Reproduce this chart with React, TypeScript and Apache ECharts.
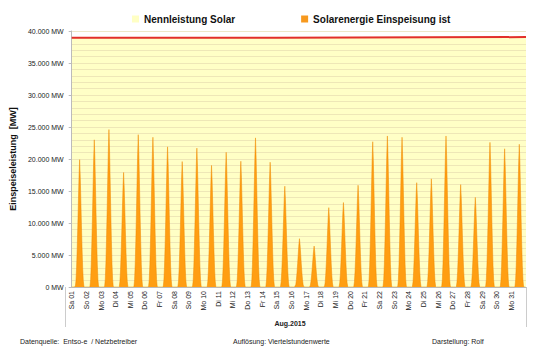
import React, { useEffect, useRef } from "react";
import * as echarts from "echarts";

// Day tick labels (August 2015)
const dayLabels = [
  "Sa 01", "So 02", "Mo 03", "Di 04", "Mi 05", "Do 06", "Fr 07", "Sa 08", "So 09", "Mo 10",
  "Di 11", "Mi 12", "Do 13", "Fr 14", "Sa 15", "So 16", "Mo 17", "Di 18", "Mi 19", "Do 20",
  "Fr 21", "Sa 22", "So 23", "Mo 24", "Di 25", "Mi 26", "Do 27", "Fr 28", "Sa 29", "So 30", "Mo 31",
];

// Daily peak of solar feed-in (MW)
const dailyPeakMW = [
  19900, 23000, 24600, 17900, 23800, 23400, 21900, 19600, 21700, 19000,
  21050, 19650, 23300, 19500, 15750, 7550, 6400, 12400, 13200, 15900,
  22700, 23600, 23400, 16300, 16900, 23600, 16000, 14000, 22600, 21600, 22300,
];

// Intraday shape of a day's feed-in (fraction of peak, hours 0..23)
const intradayProfile = [
  0, 0, 0, 0, 0, 0, 0.005, 0.05, 0.15, 0.3, 0.48, 0.68,
  0.87, 1.0, 0.87, 0.68, 0.48, 0.3, 0.15, 0.05, 0.005, 0, 0, 0,
];

// Installed solar capacity (MW): [start day, end day, value]
const capacityStartDays = [0, 14];
const capacityEndDays = [14, 31];
const capacityMW = [38950, 39050];

// Y tick values
const yTicks = [0, 5000, 10000, 15000, 20000, 25000, 30000, 35000, 40000];

const FONT = "'Liberation Sans', Arial, sans-serif";

function fmtMW(v: number): string {
  if (v === 0) return "0 MW";
  const k = Math.floor(v / 1000);
  const r = String(Math.round(v % 1000)).padStart(3, "0");
  return `${k}.${r} MW`;
}

export default function App() {
  const ref = useRef<HTMLDivElement>(null);

  useEffect(() => {
    if (!ref.current) return;
    const chart = echarts.init(ref.current, undefined, { renderer: "svg" });

    const solarData: [number, number][] = [];
    dailyPeakMW.forEach((peak, d) => {
      intradayProfile.forEach((f, h) => {
        solarData.push([d + h / 24, peak * f]);
      });
    });
    solarData.push([dailyPeakMW.length, 0]);

    const capData: [number, number][] = [];
    capacityMW.forEach((c, i) => {
      capData.push([capacityStartDays[i], c]);
      capData.push([capacityEndDays[i], c]);
    });

    const option: any = {
      animation: false,
      backgroundColor: "#ffffff",
      textStyle: { fontFamily: FONT },
      grid: { left: 65, right: 14, top: 31, bottom: 72 },
      legend: {
        left: 127,
        top: 9,
        itemWidth: 7,
        itemHeight: 7,
        itemGap: 66,
        textStyle: { fontSize: 10, fontWeight: "bold", color: "#111", fontFamily: FONT },
        data: [
          { name: "Nennleistung Solar", icon: "rect", itemStyle: { color: "#FFFFC4" } },
          { name: "Solarenergie Einspeisung ist", icon: "rect", itemStyle: { color: "#F7991E" } },
        ],
      },
      xAxis: {
        type: "value",
        min: 0,
        max: 31,
        interval: 1,
        axisLine: { show: true, lineStyle: { color: "#bbbbbb", width: 1 } },
        axisTick: { show: false },
        splitLine: { show: false },
        axisLabel: {
          rotate: 90,
          fontSize: 7,
          color: "#222",
          margin: 4,
          showMaxLabel: false,
          formatter: (v: number) => dayLabels[Math.round(v)] ?? "",
        },
      },
      yAxis: {
        type: "value",
        min: 0,
        max: yTicks[yTicks.length - 1],
        interval: yTicks[1] - yTicks[0],
        name: "Einspeiseleistung  [MW]",
        nameLocation: "middle",
        nameRotate: 90,
        nameGap: 50,
        nameTextStyle: { fontSize: 9, fontWeight: "bold", color: "#111", fontFamily: FONT },
        axisLine: { show: true, lineStyle: { color: "#bbbbbb", width: 1 } },
        axisTick: { show: true, length: 3, lineStyle: { color: "#bbbbbb" } },
        axisLabel: { fontSize: 7, color: "#222", margin: 8, formatter: (v: number) => fmtMW(v) },
        splitLine: { show: true, lineStyle: { color: "#E6DDB0", width: 0.7 } },
        minorTick: { show: false, splitNumber: 5 },
        minorSplitLine: { show: true, lineStyle: { color: "#E6DDB0", width: 0.7 } },
      },
      series: [
        {
          name: "Nennleistung Solar",
          type: "line",
          data: capData,
          showSymbol: false,
          z: -1,
          lineStyle: { width: 0 },
          areaStyle: { color: "#FFFFC6", opacity: 1 },
          silent: true,
        },
        {
          name: "Solarenergie Einspeisung ist",
          type: "line",
          data: solarData,
          showSymbol: false,
          z: 4,
          lineStyle: { color: "#EE8A00", width: 0.5 },
          areaStyle: { color: "#FF9E12", opacity: 1 },
          silent: true,
        },
        {
          name: "Nennleistung Solar",
          type: "line",
          data: capData,
          showSymbol: false,
          z: 5,
          lineStyle: { color: "#E2302A", width: 2 },
          silent: true,
        },
      ],
      graphic: [
        { type: "line", shape: { x1: 65.5, y1: 287, x2: 65.5, y2: 327 }, style: { stroke: "#cccccc", lineWidth: 1 } },
        { type: "line", shape: { x1: 526.5, y1: 287, x2: 526.5, y2: 327 }, style: { stroke: "#cccccc", lineWidth: 1 } },
        {
          type: "text", x: 290, y: 323,
          style: { text: "Aug.2015", fontSize: 7, fontWeight: "bold", fill: "#222", fontFamily: FONT, align: "center", verticalAlign: "middle" },
        },
        {
          type: "text", x: 20, y: 341,
          style: { text: "Datenquelle:  Entso-e  / Netzbetreiber", fontSize: 7, fill: "#222", fontFamily: FONT, align: "left", verticalAlign: "middle" },
        },
        {
          type: "text", x: 233, y: 341,
          style: { text: "Auflösung: Viertelstundenwerte", fontSize: 7, fill: "#222", fontFamily: FONT, align: "left", verticalAlign: "middle" },
        },
        {
          type: "text", x: 432, y: 341,
          style: { text: "Darstellung: Rolf", fontSize: 7, fill: "#222", fontFamily: FONT, align: "left", verticalAlign: "middle" },
        },
      ],
    };

    chart.setOption(option);
    return () => chart.dispose();
  }, []);

  return (
    <div
      ref={ref}
      style={{ position: "fixed", left: 0, top: 0, width: 540, height: 359, background: "#fff" }}
    />
  );
}
